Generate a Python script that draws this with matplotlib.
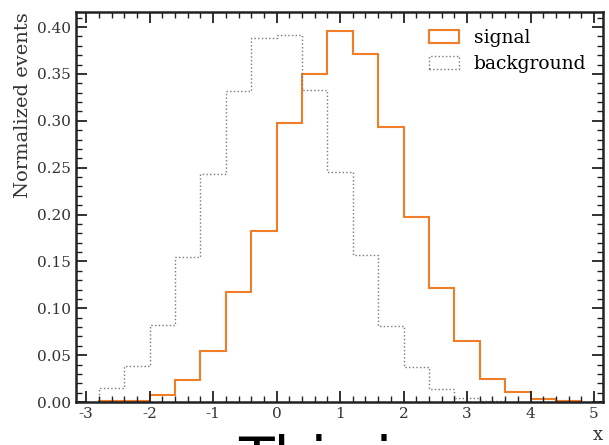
import numpy as np
import matplotlib.pyplot as plt
from matplotlib.ticker import MultipleLocator
from matplotlib.patches import Patch

plt.rcParams['font.family'] = 'DejaVu Serif'
plt.rcParams['axes.unicode_minus'] = False

edges = np.round(np.arange(-2.8, 4.81, 0.4), 2)
signal = [0.001, 0.001, 0.008, 0.024, 0.054, 0.117, 0.182, 0.298, 0.350, 0.396,
          0.371, 0.293, 0.197, 0.122, 0.065, 0.025, 0.011, 0.003, 0.001]
background = [0.015, 0.038, 0.082, 0.155, 0.243, 0.332, 0.388, 0.392, 0.333, 0.245,
              0.157, 0.081, 0.037, 0.014, 0.004, 0.001, 0.0005, 0.0, 0.0]

sig_color = '#f07d28'
bkg_color = '#777777'

fig = plt.figure(figsize=(6.09, 4.45), dpi=100)
ax = fig.add_axes([0.1248, 0.0966, 0.8652, 0.8764])

ax.stairs(signal, edges, color=sig_color, lw=1.5)
ax.stairs(background, edges, color=bkg_color, lw=1.0, ls=':')

ax.set_xlim(-3.16, 5.14)
ax.set_ylim(0, 0.416)
ax.xaxis.set_major_locator(MultipleLocator(1))
ax.xaxis.set_minor_locator(MultipleLocator(0.2))
ax.yaxis.set_major_locator(MultipleLocator(0.05))
ax.yaxis.set_minor_locator(MultipleLocator(0.01))
ax.yaxis.set_major_formatter(plt.FormatStrFormatter('%.2f'))
ax.tick_params(which='both', direction='in', top=True, right=True, labelsize=11,
               colors='#222222', labelcolor='#333333')
ax.tick_params(which='major', length=8, width=1.3)
ax.tick_params(which='minor', length=4, width=1.0)
for s in ax.spines.values():
    s.set_linewidth(1.8)
    s.set_color('#222222')

ax.set_ylabel('Normalized events', loc='top', fontsize=14, color='#333333', labelpad=4)
ax.set_xlabel('x', loc='right', fontsize=13, color='#333333', labelpad=4)

handles = [Patch(facecolor='none', edgecolor=sig_color, lw=1.5, label='signal'),
           Patch(facecolor='none', edgecolor=bkg_color, lw=1.0, ls=':', label='background')]
ax.legend(handles=handles, loc='upper right', frameon=False, fontsize=13.5,
          handlelength=1.6, handleheight=0.65, labelspacing=0.45)

fig.text(238 / 609, -0.076, 'This is', fontsize=42, family='DejaVu Sans',
         color='black', va='baseline', ha='left')

fig.savefig('out.png', dpi=100)
